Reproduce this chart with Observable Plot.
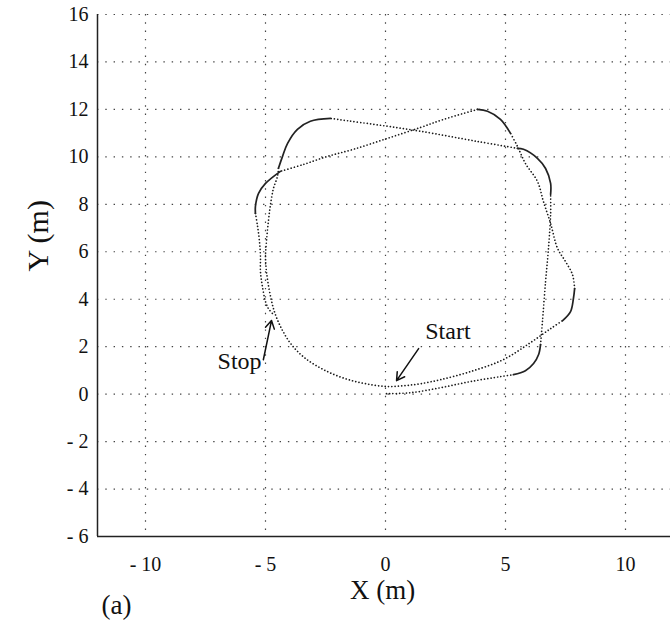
<!DOCTYPE html>
<html><head><meta charset="utf-8">
<script src="https://cdn.jsdelivr.net/npm/d3@7"></script>
<script src="https://cdn.jsdelivr.net/npm/@observablehq/plot@0.6"></script>
<style>
html,body{margin:0;padding:0;background:#fff;}
#chart{width:670px;height:633px;}
#chart svg text{font-family:"Liberation Serif","Times New Roman",serif;}
</style></head><body><div id="chart"></div>
<script>
// axes
const xDomain = [-12, 12];
const yDomain = [-6, 16];
const xTicks = [-10, -5, 0, 5, 10];
const yTicks = [-6, -4, -2, 0, 2, 4, 6, 8, 10, 12, 14, 16];

// trajectory (m), in travel order; "dotted" = sparse samples, "solid" = dense samples at turns
const seg1 = [[0.04,0.02],[1.04,0.06],[2.29,0.27],[3.54,0.53],[4.79,0.74],[5.33,0.82]];
const seg2 = [[5.33,0.82],[5.83,0.99],[6.17,1.29],[6.38,1.67],[6.46,2.09]];
const seg3 = [[6.46,2.09],[6.54,3.06],[6.67,4.75],[6.79,6.14],[6.88,7.57],[6.88,8.42]];
const seg4 = [[6.88,8.42],[6.88,8.88],[6.67,9.51],[6.33,9.94],[5.75,10.32],[5.5,10.36]];
const seg5 = [[5.5,10.36],[3.83,10.65],[1.46,11.08],[0.08,11.29],[-2.0,11.58],[-2.29,11.62]];
const seg6 = [[-2.29,11.62],[-3.13,11.5],[-3.67,11.16],[-4.08,10.57],[-4.29,10.02],[-4.46,9.52]];
const seg7 = [[-4.46,9.52],[-4.5,9.18],[-4.67,8.67],[-4.79,8.0],[-4.88,7.28],[-4.96,6.43],[-5.0,5.8],
  [-4.96,5.17],[-4.83,4.32],[-4.63,3.48],[-4.33,2.76],[-3.92,2.09],[-3.33,1.5],[-2.5,0.99],[-1.67,0.65],
  [-0.83,0.44],[0.08,0.32],[0.83,0.36],[1.46,0.44],[2.29,0.61],[3.54,0.95],[4.92,1.46],[6.04,2.17],
  [6.88,2.76],[7.38,3.10]];
const seg8 = [[7.38,3.10],[7.71,3.48],[7.83,4.03],[7.88,4.45]];
const seg9 = [[7.88,4.45],[7.79,5.04],[7.5,5.59],[7.17,6.14],[6.88,7.19],[6.58,8.12],[6.33,8.97],
  [5.83,9.72],[5.5,10.44],[5.21,10.99]];
const seg10 = [[5.21,10.99],[4.79,11.58],[4.25,11.92],[3.83,12.0]];
const seg11 = [[3.83,12.0],[2.42,11.58],[1.46,11.24],[0.08,10.78],[-1.33,10.32],[-2.42,10.02],
  [-3.42,9.68],[-4.38,9.39]];
const seg12 = [[-4.38,9.39],[-5.0,8.88],[-5.29,8.46],[-5.42,7.91],[-5.42,7.62]];
const seg13 = [[-5.42,7.62],[-5.33,7.07],[-5.25,6.43],[-5.21,5.8],[-5.21,5.17],[-5.13,4.54],
  [-5.0,3.9],[-4.88,3.61],[-4.71,3.40]];
const segments = [seg1,seg2,seg3,seg4,seg5,seg6,seg7,seg8,seg9,seg10,seg11,seg12,seg13];
const segKinds = ["dotted","solid","dotted","solid","dotted","solid","dotted","solid","dotted","solid","dotted","solid","dotted"];

// annotations
const noteText = ["Start", "Stop"];
const noteX = [2.6, -6.08];
const noteY = [2.63, 1.39];
const arrowFrom = [[1.38, 1.92], [-5.09, 1.45]];
const arrowTo = [[0.46, 0.57], [-4.75, 3.10]];

const rows = segments.flatMap((s, i) => s.map(([x, y]) => ({x, y, seg: i, kind: segKinds[i]})));
const notes = noteText.map((t, i) => ({t, x: noteX[i], y: noteY[i]}));
const arrows = arrowFrom.map((f, i) => ({x1: f[0], y1: f[1], x2: arrowTo[i][0], y2: arrowTo[i][1]}));
const fmt = d => d < 0 ? "- " + Math.abs(d) : String(d);
const serif = '"Liberation Serif", "Times New Roman", serif';

const chart = Plot.plot({
  width: 670, height: 633,
  marginLeft: 97, marginRight: -3, marginTop: 14, marginBottom: 97,
  style: {fontFamily: serif, fontSize: "20px", color: "#111", background: "#fff"},
  x: {domain: xDomain},
  y: {domain: yDomain},
  marks: [
    Plot.ruleX(xTicks, {stroke: "#444", strokeWidth: 1.2, strokeDasharray: "1.4,6.9"}),
    Plot.ruleY(yTicks, {stroke: "#444", strokeWidth: 1.2, strokeDasharray: "1.4,6.9"}),
    Plot.ruleX([xDomain[0]], {stroke: "#222", strokeWidth: 1.5}),
    Plot.ruleY([yDomain[0]], {stroke: "#222", strokeWidth: 1.5}),
    Plot.axisX({ticks: xTicks, tickFormat: fmt, tickSize: 0, tickPadding: 20, label: null, fontSize: 20, fontFamily: serif}),
    Plot.axisY({ticks: yTicks, tickFormat: fmt, tickSize: 0, tickPadding: 9, label: null, fontSize: 20, fontFamily: serif}),
    Plot.line(rows, {filter: d => d.kind === "dotted", x: "x", y: "y", z: "seg", curve: "catmull-rom",
      stroke: "#1a1a1a", strokeWidth: 1.7, strokeLinecap: "round", strokeDasharray: "0.01,3.3"}),
    Plot.line(rows, {filter: d => d.kind === "solid", x: "x", y: "y", z: "seg", curve: "catmull-rom",
      stroke: "#222", strokeWidth: 1.7}),
    Plot.arrow(arrows, {x1: "x1", y1: "y1", x2: "x2", y2: "y2", stroke: "#111", strokeWidth: 1.5, headLength: 9}),
    Plot.text(notes, {x: "x", y: "y", text: "t", fontSize: 24, fill: "#111", fontFamily: serif}),
    Plot.text(["X (m)"], {text: d => d, frameAnchor: "bottom", dx: -3, dy: 62, fontSize: 27, fill: "#111", fontFamily: serif}),
    Plot.text(["Y (m)"], {text: d => d, frameAnchor: "left", dx: -59, dy: -4, rotate: -90, fontSize: 30, fill: "#111", fontFamily: serif}),
    Plot.text(["(a)"], {text: d => d, frameAnchor: "bottom-left", dx: 4, dy: 77, fontSize: 27, fill: "#111", fontFamily: serif})
  ]
});
document.getElementById("chart").appendChild(chart);
</script>
</body></html>
